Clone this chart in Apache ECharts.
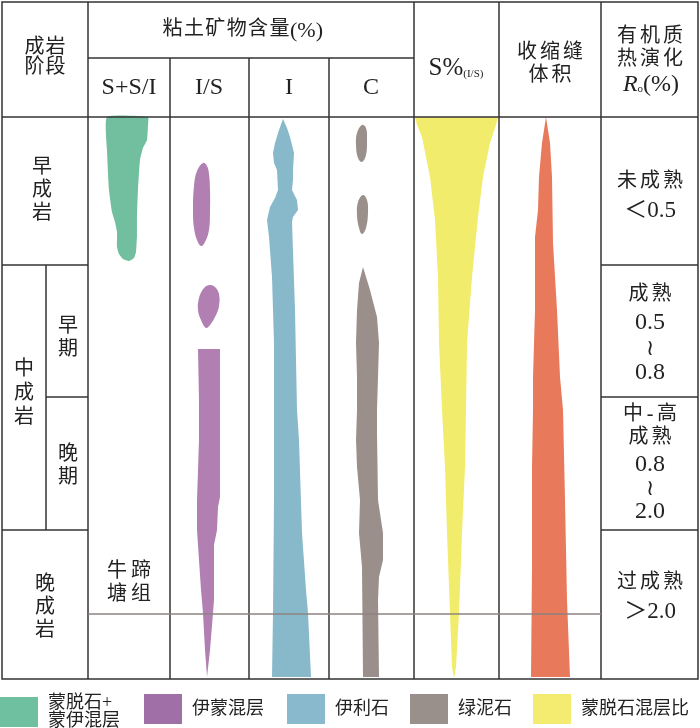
<!DOCTYPE html>
<html>
<head>
<meta charset="utf-8">
<script src="https://cdn.jsdelivr.net/npm/echarts@6/dist/echarts.min.js"></script>
<style>
  html, body { margin: 0; padding: 0; background: #fff; }
  #chart { width: 700px; height: 728px; }
</style>
</head>
<body>
<div id="chart"></div>
<script>
// ---- data: outlines of each band, [position across table, depth] ----
const smectitePoly = [[107,117],[148,117],[148,125],[147,140],[143,148],[140,160],[138,190],[137,215],[137,235],[136,252],[134,258],[129,261],[123,259],[119,254],[117,247],[117,232],[115,222],[112,212],[109,190],[107,150]];
const illSmecBlobs = [
    [[203,163],[207,166],[209,174],[210,190],[210,212],[209,230],[205,242],[201,246],[197,240],[194,228],[193,210],[194,186],[197,171]],
    [[210,285],[215,287],[219,294],[219,306],[216,315],[210,325],[206,328],[201,320],[198,310],[199,298],[204,288]]
];
const illSmecMain = [[198,349],[220,349],[220,420],[220,497],[218,507],[217,530],[214,545],[214,600],[213,613],[210,650],[207,677],[205,650],[203,613],[201,590],[199,560],[197,530],[197,500],[199,440],[199,400]];
const illitePoly = [[283,119],[287,128],[290,137],[294,153],[293,170],[293,180],[292,190],[297,200],[298,210],[293,217],[292,222],[295,310],[297,410],[299,440],[302,533],[306,590],[308,613],[311,677],[272,677],[273,613],[274,500],[274,410],[274,343],[272,277],[269,237],[267,220],[270,207],[275,198],[278,190],[277,170],[274,163],[273,153],[275,143],[279,130]];
const chloriteBlobs = [
    [[362,125],[366,128],[367,140],[366,155],[362,162],[358,158],[356,145],[357,133]],
    [[363,195],[367,200],[368,212],[366,228],[362,234],[359,228],[357,215],[358,202]]
];
const chloriteMain = [[363,267],[370,290],[377,317],[379,343],[378,377],[377,410],[377,433],[378,500],[383,533],[383,560],[379,577],[378,600],[379,677],[363,677],[362,567],[359,533],[360,500],[357,467],[356,440],[357,410],[357,377],[356,343],[357,310],[359,283]];
const smecRatioPoly = [[415,117],[498,117],[496,125],[490,143],[483,177],[478,217],[472,277],[467,343],[466,410],[465,467],[462,533],[459,613],[456,667],[454,678],[452,667],[450,613],[447,533],[445,467],[442,410],[439,343],[438,277],[435,220],[430,177],[422,137],[417,125]];
const shrinkPoly = [[546,117],[550,143],[552,177],[553,243],[557,310],[560,377],[563,410],[565,500],[567,600],[570,677],[531,677],[532,567],[532,467],[533,410],[533,377],[535,310],[535,237],[538,210],[539,177],[542,143]];

const legendNames = ['蒙脱石+\n蒙伊混层', '伊蒙混层', '伊利石', '绿泥石', '蒙脱石混层比'];
const colGroupTitle = '粘土矿物含量(%)';
const mineralCols = ['S+S/I', 'I/S', 'I', 'C'];
const stageLabels = ['早成岩', '中成岩', '早期', '晚期', '晚成岩'];
const maturityLabels = [['未成熟', '＜0.5'], ['成熟', '0.5', '≀', '0.8'], ['中-高', '成熟', '0.8', '≀', '2.0'], ['过成熟', '＞2.0']];

// ---- layout / style ----
const FONT = "'Liberation Serif','Noto Sans CJK SC',serif";
const INK = '#222';
const LINE = '#333';
const colors = {
    green: '#72bfa0', purple: '#b17fb1', blue: '#88b9ca',
    gray: '#9a8f8b', yellow: '#f2ec6c', orange: '#e8795a'
};
const legendColors = ['#6fc0a0', '#a16fa7', '#88b9cc', '#9a908b', '#f3ec70'];
const legendLeft = [0, 144, 287, 410, 533];

function polySeries(name, color, polys, smooth) {
    return {
        type: 'custom',
        name: name,
        coordinateSystem: 'cartesian2d',
        itemStyle: { color: color },
        data: polys.map((_, i) => [i]),
        silent: true,
        animation: false,
        renderItem: (params, api) => ({
            type: 'polygon',
            shape: { points: polys[params.dataIndex].map(p => api.coord(p)), smooth: smooth },
            style: { fill: api.visual('color') }
        })
    };
}

function txt(x, y, text, size, extra) {
    return {
        type: 'text', x: x, y: y, z: 200,
        style: Object.assign({
            text: text, fontSize: size, fontFamily: FONT, fill: INK,
            align: 'center', verticalAlign: 'middle'
        }, extra || {})
    };
}

// one char at a time so the spacing can follow the picture
function spaced(chars, cx, cy, step, size, vertical) {
    const n = chars.length;
    return Array.from(chars).map((c, i) => {
        const off = (i - (n - 1) / 2) * step;
        return vertical ? txt(cx, cy + off, c, size) : txt(cx + off, cy, c, size);
    });
}

function line(x1, y1, x2, y2, color) {
    return {
        type: 'line', z: 150,
        shape: { x1: x1, y1: y1, x2: x2, y2: y2 },
        style: { stroke: color || LINE, lineWidth: 1.5 }
    };
}

const grid = [
    { type: 'rect', z: 150, shape: { x: 2, y: 2, width: 696, height: 677 }, style: { fill: null, stroke: LINE, lineWidth: 1.5 } },
    line(2, 117, 698, 117),
    line(88, 58, 414, 58),
    line(88, 2, 88, 679),
    line(170, 58, 170, 679), line(249, 58, 249, 679), line(329, 58, 329, 679),
    line(414, 2, 414, 679), line(499, 2, 499, 679), line(601, 2, 601, 679),
    line(2, 265, 88, 265), line(46, 397, 88, 397), line(2, 530, 88, 530), line(46, 265, 46, 530),
    line(601, 265, 698, 265), line(601, 397, 698, 397), line(601, 530, 698, 530),
    line(88, 614, 601, 614, '#8c8380')
];

const labels = [].concat(
    spaced('成岩', 45, 48, 21, 20), spaced('阶段', 45, 68, 21, 20),
    spaced(colGroupTitle.slice(0, 6), 226, 30, 21.4, 20),
    [txt(290, 31, colGroupTitle.slice(6), 22, { align: 'left' })],
    [txt(129, 88, mineralCols[0], 24), txt(209, 88, mineralCols[1], 24),
     txt(289, 88, mineralCols[2], 24), txt(371, 88, mineralCols[3], 24)],
    [txt(456, 68, '{a|S%}{b|(I/S)}', 24, {
        rich: {
            a: { fontSize: 25, fontFamily: FONT, fill: INK },
            b: { fontSize: 11, fontFamily: FONT, fill: INK, verticalAlign: 'bottom', padding: [0, 0, 1, 0] }
        }
    })],
    spaced('收缩缝', 550, 53, 23, 20), spaced('体积', 550, 76, 23, 20),
    spaced('有机质', 650, 37, 23, 20), spaced('热演化', 650, 60, 23, 20),
    [txt(651, 85, '{i|R}{s|o}{n|(%)}', 24, {
        rich: {
            i: { fontSize: 24, fontStyle: 'italic', fontFamily: FONT, fill: INK },
            s: { fontSize: 11, fontFamily: FONT, fill: INK, verticalAlign: 'bottom', padding: [0, 0, 2, 0] },
            n: { fontSize: 24, fontFamily: FONT, fill: INK }
        }
    })],
    spaced(stageLabels[0], 42, 191, 23, 20, true),
    spaced(stageLabels[1], 24, 394, 24, 20, true),
    spaced(stageLabels[2], 68, 338, 23, 20, true),
    spaced(stageLabels[3], 68, 466, 23, 20, true),
    spaced(stageLabels[4], 45, 608, 23, 20, true),
    spaced('牛蹄', 129, 572, 24, 20), spaced('塘组', 129, 595, 24, 20),
    // maturity column
    spaced(maturityLabels[0][0], 650, 182, 23, 20), [txt(650, 211, maturityLabels[0][1], 23)],
    spaced(maturityLabels[1][0], 650, 295, 23, 20),
    [txt(650, 323, maturityLabels[1][1], 24), txt(650, 349, maturityLabels[1][2], 22), txt(650, 373, maturityLabels[1][3], 24)],
    spaced(maturityLabels[2][0], 650, 415, 17, 20),
    spaced(maturityLabels[2][1], 650, 438, 23, 20),
    [txt(650, 465, maturityLabels[2][2], 24), txt(650, 489, maturityLabels[2][3], 22), txt(650, 512, maturityLabels[2][4], 24)],
    spaced(maturityLabels[3][0], 650, 583, 23, 20), [txt(650, 612, maturityLabels[3][1], 23)]
);

const chart = echarts.init(document.getElementById('chart'));
chart.setOption({
    animation: false,
    backgroundColor: '#fff',
    grid: { left: 0, right: 0, top: 0, bottom: 0 },
    xAxis: { type: 'value', min: 0, max: 700, show: false },
    yAxis: { type: 'value', min: 0, max: 728, inverse: true, show: false },
    legend: legendNames.map((name, i) => ({
        left: legendLeft[i], top: 694, padding: 0, itemGap: 0,
        itemWidth: 38, itemHeight: 30, icon: 'rect', selectedMode: false,
        data: [{ name: name, itemStyle: { color: legendColors[i], borderWidth: 0 } }],
        textStyle: { fontSize: 18, fontFamily: FONT, color: INK, lineHeight: 18, padding: [0, 0, 0, 5] }
    })),
    series: [
        polySeries(legendNames[0], colors.green, [smectitePoly], 0.15),
        polySeries(legendNames[1], colors.purple, illSmecBlobs, 0.4),
        polySeries(legendNames[1], colors.purple, [illSmecMain], 0),
        polySeries(legendNames[2], colors.blue, [illitePoly], 0),
        polySeries(legendNames[3], colors.gray, chloriteBlobs, 0.4),
        polySeries(legendNames[3], colors.gray, [chloriteMain], 0),
        polySeries(legendNames[4], colors.yellow, [smecRatioPoly], 0),
        polySeries('收缩缝体积', colors.orange, [shrinkPoly], 0)
    ],
    graphic: { elements: grid.concat(labels) }
});
</script>
</body>
</html>
